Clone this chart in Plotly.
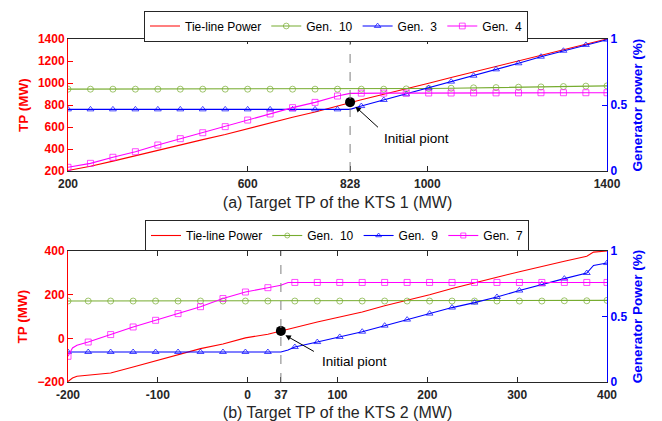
import plotly.graph_objects as go

# ---------------- data: (a) KTS 1 ----------------
top_x = [200, 250, 300, 350, 400, 450, 500, 550, 600, 650, 700, 750, 800, 828,
         853, 903, 953, 1003, 1053, 1103, 1153, 1203, 1253, 1303, 1353, 1400]
top_unmarked = [828]
top_tie = [205, 243, 290, 340, 390, 438, 485, 532, 585, 637, 688, 736, 790, 826,
           848, 898, 945, 998, 1050, 1100, 1152, 1203, 1254, 1305, 1354, 1400]
top_gen10 = [0.62, 0.62, 0.62, 0.62, 0.62, 0.62, 0.62, 0.62, 0.62, 0.62, 0.62, 0.62, 0.62, 0.62,
             0.62, 0.62, 0.622, 0.625, 0.627, 0.63, 0.632, 0.635, 0.637, 0.64, 0.643, 0.645]
top_gen3 = [0.467, 0.467, 0.467, 0.467, 0.467, 0.467, 0.467, 0.467, 0.467, 0.467, 0.467, 0.467, 0.467, 0.467,
            0.492, 0.538, 0.581, 0.627, 0.677, 0.722, 0.770, 0.816, 0.866, 0.911, 0.955, 0.995]
top_gen4 = [0.028, 0.058, 0.104, 0.146, 0.197, 0.245, 0.290, 0.336, 0.386, 0.432, 0.480, 0.520, 0.568, 0.588,
            0.590, 0.590, 0.590, 0.591, 0.591, 0.592, 0.592, 0.592, 0.593, 0.593, 0.593, 0.593]
top_init = (828, 826)
top_xticks = [200, 600, 828, 1000, 1400]
top_yticks = [200, 400, 600, 800, 1000, 1200, 1400]

# ---------------- data: (b) KTS 2 ----------------
bot_x = [-200, -195, -190, -177.5, -152.5, -127.5, -102.5, -77.5, -52.5, -27.5, -2.5, 22.5, 37, 45,
         52.5, 77.5, 102.5, 127.5, 152.5, 177.5, 202.5, 227.5, 252.5, 277.5, 302.5, 327.5, 352.5,
         377.5, 385, 400]
bot_unmarked = [-195, -190, 37, 45, 385]
bot_tie = [-198, -182, -174, -168, -159, -131, -103, -75, -47, -26, 2, 19, 34, 42,
           52, 75, 98, 121, 149, 174, 200, 228, 255, 280, 305, 330, 353, 376, 395, 400]
bot_gen10 = [0.618] * 26 + [0.62, 0.62, 0.622, 0.623]
bot_gen9 = [0.229, 0.229, 0.229, 0.229, 0.229, 0.229, 0.229, 0.229, 0.229, 0.229, 0.229, 0.229, 0.229, 0.245,
            0.267, 0.305, 0.344, 0.384, 0.430, 0.476, 0.522, 0.568, 0.606, 0.649, 0.698, 0.746, 0.789,
            0.832, 0.89, 0.908]
bot_gen7 = [0.196, 0.26, 0.28, 0.305, 0.362, 0.42, 0.471, 0.522, 0.575, 0.637, 0.687, 0.72, 0.738, 0.759,
            0.76, 0.76, 0.76, 0.76, 0.76, 0.76, 0.76, 0.76, 0.76, 0.76, 0.76, 0.76, 0.76, 0.76, 0.76, 0.76]
bot_init = (37, 34)
bot_xticks = [-200, -100, 0, 37, 100, 200, 300, 400]
bot_yticks = [-200, 0, 200, 400]
gen_ticks = [0, 0.5, 1]

RED = "#FF0000"
GREEN = "#77AC30"
BLUE = "#0000FF"
MAG = "#FF00FF"
DARK = "#262626"
FONT = "Arial, Liberation Sans, sans-serif"

fig = go.Figure()


def msizes(xs, unmarked, s=6):
    return [0 if x in unmarked else s for x in xs]


def add_panel(xs, unmarked, tie, gens, xa, ya_l, ya_r, legend):
    fig.add_trace(go.Scatter(x=xs, y=tie, mode="lines", name="Tie-line Power",
                             line=dict(color=RED, width=1.1), xaxis=xa, yaxis=ya_l,
                             legend=legend))
    for name, ys, color, sym in gens:
        fig.add_trace(go.Scatter(
            x=xs, y=ys, mode="lines+markers", name=name,
            line=dict(color=color, width=1.1),
            marker=dict(symbol=sym, size=msizes(xs, unmarked), color=color,
                        line=dict(color=color, width=1)),
            xaxis=xa, yaxis=ya_r, legend=legend))


add_panel(top_x, top_unmarked, top_tie,
          [("Gen.\u00a0 10", top_gen10, GREEN, "circle-open"),
           ("Gen.\u00a0 3", top_gen3, BLUE, "triangle-up-open"),
           ("Gen.\u00a0 4", top_gen4, MAG, "square-open")],
          "x", "y", "y2", "legend")
add_panel(bot_x, bot_unmarked, bot_tie,
          [("Gen.\u00a0 10", bot_gen10, GREEN, "circle-open"),
           ("Gen.\u00a0 9", bot_gen9, BLUE, "triangle-up-open"),
           ("Gen.\u00a0 7", bot_gen7, MAG, "square-open")],
          "x2", "y3", "y4", "legend2")

# initial points
fig.add_trace(go.Scatter(x=[top_init[0]], y=[top_init[1]], mode="markers", showlegend=False,
                         marker=dict(color="black", size=10), xaxis="x", yaxis="y"))
fig.add_trace(go.Scatter(x=[bot_init[0]], y=[bot_init[1]], mode="markers", showlegend=False,
                         marker=dict(color="black", size=10), xaxis="x2", yaxis="y3"))

xd = [68 / 662, 607 / 662]
yd_top = [1 - 171 / 421, 1 - 39 / 421]
yd_bot = [1 - 382 / 421, 1 - 251 / 421]

tickfont_x = dict(family=FONT, size=12, color=DARK, weight="bold")


def xaxis_cfg(domain, anchor, rng, ticks, title):
    return dict(domain=domain, anchor=anchor, range=rng, tickvals=ticks,
                ticktext=[str(t) for t in ticks], ticks="inside", ticklen=5,
                tickcolor=DARK, showline=True, linecolor=DARK, linewidth=1,
                mirror="ticks", showgrid=False, zeroline=False, tickfont=tickfont_x,
                automargin=False, ticklabelstandoff=2,
                title=dict(text=title, font=dict(family=FONT, size=16, color=DARK), standoff=6))


def yleft_cfg(domain, anchor, rng, ticks):
    return dict(domain=domain, anchor=anchor, range=rng, tickvals=ticks, ticks="inside",
                ticklen=5, tickcolor=RED, showline=True, linecolor=RED, linewidth=1,
                showgrid=False, zeroline=False, automargin=False,
                tickfont=dict(family=FONT, size=12, color=RED, weight="bold"),
                title=dict(text="TP (MW)", font=dict(family=FONT, size=13.5, color=RED, weight="bold"),
                           standoff=6))


def yright_cfg(overlay, anchor, title):
    return dict(overlaying=overlay, anchor=anchor, side="right", range=[0, 1],
                tickvals=gen_ticks, ticktext=["0", "0.5", "1"], ticks="inside", ticklen=5,
                tickcolor=BLUE, showline=True, linecolor=BLUE, linewidth=1,
                showgrid=False, zeroline=False, automargin=False,
                tickfont=dict(family=FONT, size=12, color=BLUE, weight="bold"),
                title=dict(text=title, font=dict(family=FONT, size=13.5, color=BLUE, weight="bold"),
                           standoff=6))


leg_common = dict(orientation="h", xanchor="left", yanchor="top", bgcolor="white",
                  bordercolor=DARK, borderwidth=1,
                  font=dict(family=FONT, size=12, color="black"))

fig.update_layout(
    width=662, height=421, autosize=False,
    margin=dict(l=0, r=0, t=0, b=0, autoexpand=False),
    paper_bgcolor="white", plot_bgcolor="white",
    xaxis=xaxis_cfg(xd, "y", [200, 1400], top_xticks, "(a) Target TP of the KTS 1 (MW)"),
    yaxis=yleft_cfg(yd_top, "x", [200, 1400], top_yticks),
    yaxis2=yright_cfg("y", "x", "Generator power (%)"),
    xaxis2=xaxis_cfg(xd, "y3", [-200, 400], bot_xticks, "(b) Target TP of the KTS 2 (MW)"),
    yaxis3=yleft_cfg(yd_bot, "x2", [-200, 400], bot_yticks),
    yaxis4=yright_cfg("y3", "x2", "Generator Power (%)"),
    legend=dict(x=144 / 662, y=1 - 10.5 / 421, **leg_common),
    legend2=dict(x=145 / 662, y=1 - 220 / 421, **leg_common),
    showlegend=True,
)

# dashed lines at the initial target
fig.add_shape(type="line", xref="x", yref="y domain", x0=top_init[0], x1=top_init[0], y0=0, y1=1,
              line=dict(color="#7F7F7F", width=1, dash="dash"))
fig.add_shape(type="line", xref="x2", yref="y3 domain", x0=bot_init[0], x1=bot_init[0], y0=0, y1=1,
              line=dict(color="#7F7F7F", width=1, dash="dash"))

ann_font = dict(family=FONT, size=13.5, color="black")
# arrows
fig.add_annotation(xref="x", yref="y", x=840, y=785, ax=24, ay=22, axref="pixel", ayref="pixel",
                   text="", showarrow=True, arrowhead=2, arrowsize=1.1, arrowwidth=1, arrowcolor="black")
fig.add_annotation(xref="x", yref="y", x=898, y=491, text="Initial piont", showarrow=False,
                   xanchor="left", yanchor="middle", font=ann_font)
fig.add_annotation(xref="x2", yref="y3", x=42, y=14, ax=30, ay=17, axref="pixel", ayref="pixel",
                   text="", showarrow=True, arrowhead=2, arrowsize=1.1, arrowwidth=1, arrowcolor="black")
fig.add_annotation(xref="x2", yref="y3", x=80, y=-105, text="Initial piont", showarrow=False,
                   xanchor="left", yanchor="middle", font=ann_font)

fig.write_html("out.html")
